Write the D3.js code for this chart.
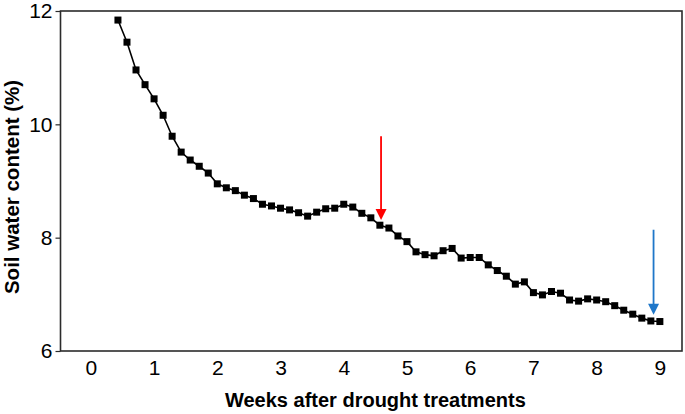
<!DOCTYPE html>
<html>
<head>
<meta charset="utf-8">
<script src="https://d3js.org/d3.v7.min.js"></script>
<style>
  html, body { margin: 0; padding: 0; background: #fff; }
  svg { display: block; }
  text { font-family: "Liberation Sans", Arial, sans-serif; }
</style>
</head>
<body>
<svg id="chart" width="685" height="414"></svg>
<script>
// Days after drought treatment (converted to weeks below)
const days = [3,4,5,6,7,8,9,10,11,12,13,14,15,16,17,18,19,20,21,22,23,24,25,26,27,28,29,30,31,32,33,34,35,36,37,38,39,40,41,42,43,44,45,46,47,48,49,50,51,52,53,54,55,56,57,58,59,60,61,62,63];
const soilWater = [11.84,11.45,10.96,10.70,10.45,10.16,9.79,9.51,9.37,9.26,9.14,8.95,8.88,8.83,8.75,8.69,8.59,8.56,8.52,8.49,8.44,8.38,8.45,8.51,8.52,8.59,8.54,8.43,8.35,8.22,8.17,8.03,7.93,7.75,7.70,7.68,7.77,7.81,7.64,7.65,7.65,7.52,7.42,7.32,7.18,7.22,7.03,6.99,7.05,7.02,6.90,6.88,6.92,6.90,6.87,6.80,6.72,6.65,6.58,6.53,6.52];
const xTicks = [0,1,2,3,4,5,6,7,8,9];
const yTicks = [6,8,10,12];
// Arrows: [week, from value, to value, colour]
const arrowWeeks = [4.59, 8.90];
const arrowFrom = [9.79, 8.14];
const arrowTo = [8.31, 6.64];
const arrowColors = ["#ff0000", "#1f77c9"];

const svg = d3.select("#chart");
const L = 60.5, R = 682, T = 11, B = 351;

const x = d3.scaleLinear().domain([-0.48, 9.35]).range([L, R]);
const y = d3.scaleLinear().domain([6, 12]).range([B, T]);

const data = days.map((d, i) => ({ w: d / 7, v: soilWater[i] }));

// frame
svg.append("rect")
  .attr("x", L).attr("y", T).attr("width", R - L).attr("height", B - T)
  .attr("fill", "none").attr("stroke", "#2b2b2b").attr("stroke-width", 1.6);

// y axis
const yAxis = svg.append("g").attr("transform", `translate(${L},0)`)
  .call(d3.axisLeft(y).tickValues(yTicks).tickSize(5).tickPadding(3).tickFormat(d3.format("d")));
yAxis.select(".domain").remove();
yAxis.selectAll("line").attr("stroke", "#2b2b2b").attr("stroke-width", 1.2);
yAxis.selectAll("text").attr("font-size", 21).attr("fill", "#000")
  .style("font-family", "'Liberation Sans', Arial, sans-serif");

// x axis (labels only)
const xAxis = svg.append("g").attr("transform", `translate(0,${B})`)
  .call(d3.axisBottom(x).tickValues(xTicks).tickSize(0).tickPadding(9).tickFormat(d3.format("d")));
xAxis.select(".domain").remove();
xAxis.selectAll("text").attr("font-size", 21).attr("fill", "#000")
  .style("font-family", "'Liberation Sans', Arial, sans-serif");

// line
svg.append("path").datum(data)
  .attr("fill", "none").attr("stroke", "#000").attr("stroke-width", 1.6)
  .attr("d", d3.line().x(d => x(d.w)).y(d => y(d.v)));

// markers
const s = 7;
svg.append("g").selectAll("rect").data(data).join("rect")
  .attr("x", d => x(d.w) - s / 2).attr("y", d => y(d.v) - s / 2)
  .attr("width", s).attr("height", s).attr("fill", "#000");

// arrows
arrowWeeks.forEach((w, i) => {
  const ax = x(w), y0 = y(arrowFrom[i]), y1 = y(arrowTo[i]);
  const hh = 11, hw = 5.5;
  svg.append("line")
    .attr("x1", ax).attr("x2", ax).attr("y1", y0).attr("y2", y1 - hh + 1)
    .attr("stroke", arrowColors[i]).attr("stroke-width", 1.8);
  svg.append("path")
    .attr("d", `M${ax - hw},${y1 - hh} L${ax + hw},${y1 - hh} L${ax},${y1} Z`)
    .attr("fill", arrowColors[i]);
});

// axis titles
svg.append("text")
  .attr("x", (x(0) + x(9)) / 2).attr("y", 407)
  .attr("text-anchor", "middle").attr("font-size", 20).attr("font-weight", "bold")
  .text("Weeks after drought treatments");

svg.append("text")
  .attr("transform", `translate(19,${(T + B) / 2 + 6}) rotate(-90)`)
  .attr("text-anchor", "middle").attr("font-size", 20.5).attr("font-weight", "bold")
  .text("Soil water content (%)");
</script>
</body>
</html>
